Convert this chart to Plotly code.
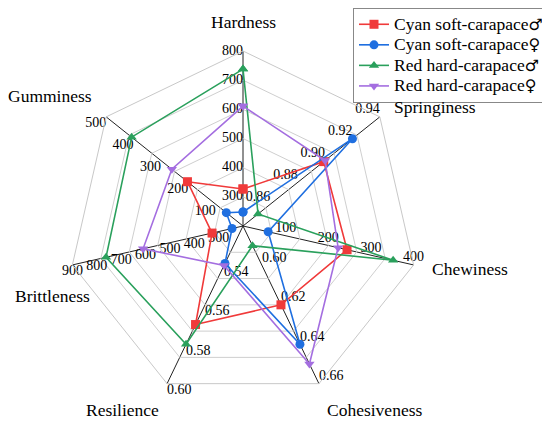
import plotly.graph_objects as go

# ---- data ----
axes_names = ["Hardness", "Springiness", "Chewiness", "Cohesiveness",
              "Resilience", "Brittleness", "Gumminess"]
axis_min = [200, 0.84, 0, 0.58, 0.52, 200, 0]
axis_max = [800, 0.94, 400, 0.66, 0.60, 900, 500]
axis_ticks = [
    [200, 300, 400, 500, 600, 700, 800],
    [0.84, 0.86, 0.88, 0.90, 0.92, 0.94],
    [0, 100, 200, 300, 400],
    [0.58, 0.60, 0.62, 0.64, 0.66],
    [0.52, 0.54, 0.56, 0.58, 0.60],
    [200, 300, 400, 500, 600, 700, 800, 900],
    [0, 100, 200, 300, 400, 500],
]
tick_fmt = ["{:.0f}", "{:.2f}", "{:.0f}", "{:.2f}", "{:.2f}", "{:.0f}", "{:.0f}"]

series_base = ["Cyan soft-carapace", "Cyan soft-carapace",
               "Red hard-carapace", "Red hard-carapace"]
series_sex = ["♂", "♀", "♂", "♀"]
cyan_male = [327, 0.899, 244, 0.620, 0.570, 327, 203]
cyan_female = [248, 0.920, 59, 0.640, 0.539, 245, 61]
red_male = [738, 0.851, 352, 0.590, 0.580, 762, 407]
red_female = [611, 0.900, 223, 0.650, 0.540, 610, 260]
series_values = [cyan_male, cyan_female, red_male, red_female]

colors = ["#f03a3a", "#1f6fe0", "#2aa05c", "#a46ee0"]
symbols = ["square", "circle", "triangle-up", "triangle-down"]
n_rings = 6

FONT = "Liberation Serif"
OFF = 8  # page body margin offset


def norm(vals):
    return [(v - lo) / (hi - lo) for v, lo, hi in zip(vals, axis_min, axis_max)]


fig = go.Figure()

# tick labels along each spoke
positions = ["middle left", "top left", "top center", "top right",
             "bottom right", "bottom center", "bottom left"]
for i, name in enumerate(axes_names):
    ticks = axis_ticks[i]
    rr = [(t - axis_min[i]) / (axis_max[i] - axis_min[i]) for t in ticks]
    fig.add_trace(go.Scatterpolar(
        r=rr, theta=[name] * len(ticks), mode="text",
        text=[tick_fmt[i].format(t) for t in ticks],
        textposition=positions[i],
        textfont=dict(family=FONT, size=14, color="black"),
        showlegend=False, hoverinfo="skip", cliponaxis=False))

for base, sex, vals, col, sym in zip(series_base, series_sex, series_values,
                                     colors, symbols):
    r = norm(vals)
    label = ('<span style="font-size:17.5px">' + base +
             '<span style="font-family:DejaVu Sans;font-size:16px">' + sex +
             '</span></span>')
    fig.add_trace(go.Scatterpolar(
        r=r + [r[0]], theta=axes_names + [axes_names[0]],
        mode="lines+markers", name=label,
        line=dict(color=col, width=1.6),
        marker=dict(symbol=sym, size=9, color=col),
        cliponaxis=False))

W, H = 550, 427
cx, cy, R = 243 - OFF, 226 - OFF, 175
fig.update_layout(
    width=W, height=H,
    margin=dict(l=0, r=0, t=0, b=0, autoexpand=False),
    paper_bgcolor="white",
    font=dict(family=FONT, size=17, color="black"),
    polar=dict(
        domain=dict(x=[(cx - R) / W, (cx + R) / W],
                    y=[(H - cy - R) / H, (H - cy + R) / H]),
        bgcolor="white",
        gridshape="linear",
        angularaxis=dict(rotation=90, direction="clockwise",
                         showticklabels=False, ticks="",
                         showline=True, linecolor="#c8c8c8", linewidth=1,
                         gridcolor="#222222", gridwidth=1),
        radialaxis=dict(range=[0, 1], showticklabels=False, ticks="",
                        showline=False,
                        tickvals=[k / n_rings for k in range(1, n_rings + 1)],
                        gridcolor="#cfcfcf", gridwidth=1),
    ),
    legend=dict(x=(549 - OFF) / W, y=1, xanchor="right", yanchor="top",
                bgcolor="white", bordercolor="#888888", borderwidth=1,
                font=dict(family=FONT, size=13.5), itemwidth=30,
                tracegroupgap=0),
    showlegend=True,
)

# axis titles
title_pos = [(243, 22), (435, 107), (470, 269), (374, 410),
             (123, 410), (52, 296), (50, 96)]
for name, (px, py) in zip(axes_names, title_pos):
    fig.add_annotation(x=(px - OFF) / W, y=1 - (py - OFF) / H,
                       xref="paper", yref="paper",
                       text=name, showarrow=False,
                       font=dict(family=FONT, size=17.5, color="black"),
                       xanchor="center", yanchor="middle")

fig.write_html("out.html")
